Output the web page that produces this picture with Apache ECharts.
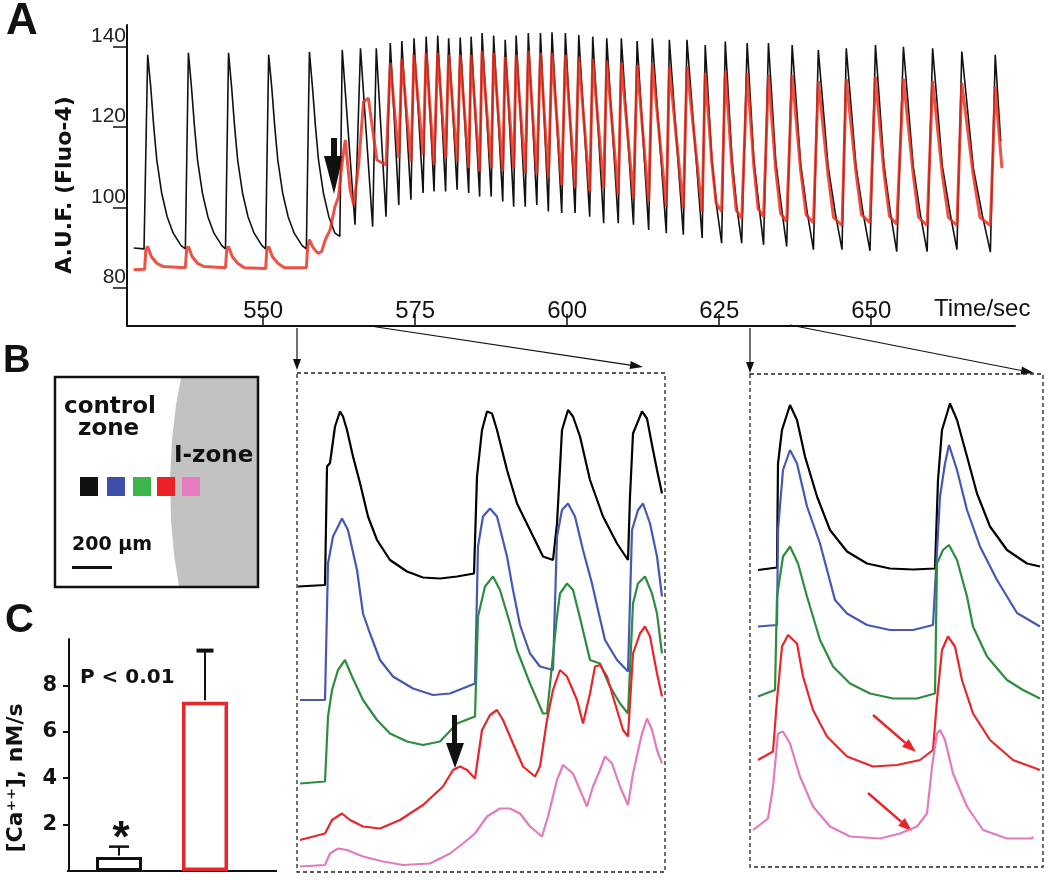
<!DOCTYPE html>
<html><head><meta charset="utf-8">
<script src="https://cdn.jsdelivr.net/npm/echarts@6/dist/echarts.min.js"></script>
<style>html,body{margin:0;padding:0;background:#fff}#c{width:1050px;height:880px}</style>
</head><body><div id="c"></div>
<script>
// ---------- Panel A : fluorescence (A.U.F., Fluo-4) vs time (s) ----------
const aTimeTicks = [550, 575, 600, 625, 650];
const aFluoTicks = [80, 100, 120, 140];
// control zone trace (black)  [time s, A.U.F.]
const aBlack = [[528.7,89.9],
[530.4,89.7],[531.0,138.0],[531.5,130.0],[532.0,120.1],[532.5,111.8],[533.3,103.6],[534.2,97.7],[535.2,93.6],[536.5,90.5],
[537.2,89.7],[537.7,138.5],[538.2,130.0],[538.7,120.1],[539.2,111.8],[540.0,103.6],[540.9,97.7],[541.9,93.6],[543.2,90.5],
[543.8,89.7],[544.3,138.5],[544.8,130.0],[545.3,120.1],[545.8,111.8],[546.6,103.6],[547.5,97.7],[548.5,93.6],[549.8,90.5],
[550.4,89.7],[550.9,138.0],[551.4,130.0],[551.9,120.1],[552.4,111.8],[553.2,103.6],[554.1,97.7],[555.1,93.6],[556.4,90.5],
[557.1,89.7],[557.6,138.7],[558.1,130.0],[558.6,120.1],[559.1,111.8],[559.9,103.6],[560.8,97.7],[561.8,93.6],[562.6,92.8],
[563.0,139.2],[565.1,95.7],[566.0,139.6],[568.0,95.2],[568.6,139.6],[570.2,97.7],[570.9,140.9],[572.3,100.6],
[572.8,141.4],[574.3,101.9],[574.8,142.1],[576.3,103.6],[576.8,142.5],[578.1,104.0],[578.7,142.8],[580.0,104.0],
[580.5,142.1],[581.9,104.4],[582.4,142.3],[583.8,103.6],[584.2,142.5],[585.6,102.7],[586.0,143.4],[587.5,102.7],
[587.9,142.8],[589.4,101.5],[589.8,141.7],[591.2,100.2],[591.6,142.8],[593.1,100.2],[593.6,143.4],[595.0,100.6],
[595.6,143.4],[596.9,99.0],[597.5,143.6],[599.1,98.6],[599.7,143.4],[601.3,98.6],[601.9,142.9],[603.7,97.7],
[604.2,142.5],[606.0,96.1],[606.5,142.1],[608.4,96.1],[608.9,142.1],[610.9,95.7],[611.5,141.4],[613.4,94.4],
[614.0,142.1],[616.3,93.6],[616.8,141.7],[619.1,93.2],[619.7,141.7],[622.2,92.4],
[622.7,140.4],[623.8,111.8],[624.6,100.0],[625.4,91.1],[626.0,141.3],[627.1,112.2],[627.9,100.1],[628.7,91.1],
[629.6,140.9],[630.7,111.8],[631.6,99.7],[632.3,90.7],[633.1,140.9],[634.3,111.5],[635.3,99.4],[636.1,90.3],
[637.0,140.4],[638.4,110.8],[639.5,98.5],[640.5,89.5],[641.3,139.2],[642.9,110.4],[644.1,98.5],[645.2,89.5],
[645.9,139.6],[647.5,110.3],[648.7,98.3],[649.8,89.2],[650.7,140.4],[652.1,110.6],[653.2,98.3],[654.2,89.0],
[655.3,140.0],[656.9,110.4],[658.1,98.1],[659.2,89.0],[660.1,139.6],[661.7,110.3],[663.0,98.4],[664.1,89.5],
[664.9,138.8],[666.8,109.8],[668.3,97.9],[669.6,88.9],[670.4,138.0],[671.3,116.4]];
// I-zone trace (red)
const aRed = [[528.7,84.5],
[530.5,84.6],[530.7,89.5],[531.0,90.3],[531.6,87.8],[532.5,86.1],[533.6,85.3],
[537.2,85.0],[537.4,89.5],[537.7,90.3],[538.3,87.8],[539.2,86.1],[540.3,85.3],
[543.8,85.0],[544.0,89.5],[544.3,90.3],[544.9,87.8],[545.8,86.1],[546.9,85.0],
[550.4,84.8],[550.6,89.5],[550.9,90.3],[551.5,87.8],[552.4,86.1],[553.5,85.0],
[557.1,85.0],[557.3,90.0],[557.6,92.0],[558.2,90.0],[559.0,88.6],[559.6,89.0],[560.2,91.9],[561.0,94.4],
[561.8,100.2],[562.4,102.7],[562.9,110.2],[563.5,116.8],[564.3,104.4],[564.9,100.6],[565.7,110.6],[566.5,126.3],
[567.3,127.2],[567.9,120.5],[568.7,111.8],[570.2,110.6],
[570.9,136.0],[572.3,112.3],[572.8,137.0],[574.3,111.4],[574.8,138.0],[576.3,113.1],[576.8,138.5],[578.1,110.6],
[578.7,138.5],[580.0,112.3],[580.5,138.0],[581.9,111.4],[582.4,138.0],[583.8,109.8],[584.2,138.0],[585.6,109.0],
[586.0,139.0],[587.5,109.8],[587.9,138.5],[589.4,109.0],[589.8,137.5],[591.2,109.8],[591.6,138.0],[593.1,108.5],
[593.6,139.0],[595.0,108.1],[595.6,138.5],[596.9,107.3],[597.5,138.5],[599.1,105.6],[599.7,138.0],[601.3,104.8],
[601.9,137.5],[603.7,104.0],[604.2,137.0],[606.0,104.8],[606.5,136.5],[608.4,103.1],[608.9,136.0],[610.9,102.3],
[611.5,135.5],[613.4,101.5],[614.0,136.0],[616.3,100.2],[616.8,135.0],[619.1,99.8],[619.7,135.0],[622.2,99.0],
[622.7,133.5],[623.8,111.1],[624.5,101.0],[625.4,99.0],[626.0,134.0],[627.1,110.1],[627.8,99.3],[628.7,97.3],
[629.6,133.5],[630.7,110.2],[631.4,99.7],[632.3,97.7],[633.1,133.0],[634.3,109.3],[635.1,98.5],[636.1,96.5],
[637.0,133.0],[638.4,109.1],[639.3,98.2],[640.5,96.2],[641.3,131.5],[642.9,108.1],[643.8,97.5],[645.2,95.5],
[645.9,132.0],[647.5,108.7],[648.4,98.2],[649.8,96.2],[650.7,132.5],[652.1,108.6],[653.0,97.8],[654.2,95.8],
[655.3,132.0],[656.9,108.3],[657.8,97.5],[659.2,95.5],[660.1,131.5],[661.7,108.1],[662.7,97.5],[664.1,95.5],
[664.9,131.0],[666.8,107.9],[667.9,97.5],[669.6,95.5],[670.4,130.0],[671.5,109.8]];

// ---------- Panel B : 5 sites, [frame, normalised F] ----------
const b1Black = [[0,57.1],[27,57.4],[29,81.1],[32,81.8],[37,89.1],[42,92.1],[45,91.1],[49,88.4],[55,83.1],[62,77.8],[70,71.1],[79,66.4],[92,62.4],[109,60.1],[125,58.9],[142,58.7],[159,59.1],[176,59.7],[179,79.1],[184,88.4],[189,92.1],[194,91.7],[199,88.4],[209,80.4],[219,73.7],[232,68.4],[245,63.1],[255,62.4],[259,69.7],[264,88.4],[270,92.4],[275,91.1],[282,87.1],[292,78.4],[305,71.1],[319,65.7],[330,62.4],[332,75.1],[335,87.7],[344,92.1],[349,90.7],[355,84.4],[359,80.4],[364,75.7]];
const b1Blue = [[2,34.4],[27,34.4],[30,61.7],[35,67.1],[44,70.7],[50,68.4],[59,60.4],[65,51.7],[72,47.7],[82,42.4],[95,39.1],[115,36.7],[135,35.4],[152,35.7],[177,37.7],[180,65.1],[185,71.1],[192,72.7],[199,71.1],[209,63.1],[215,56.4],[222,49.4],[232,43.7],[242,41.1],[255,40.4],[259,67.1],[264,72.4],[270,73.7],[277,71.1],[285,64.4],[294,57.7],[300,52.4],[307,46.4],[319,42.4],[330,40.1],[334,68.4],[340,72.4],[345,73.7],[352,69.7],[359,63.1],[364,55.1]];
const b1Green = [[2,17.7],[27,18.1],[30,31.1],[34,36.4],[40,40.4],[47,42.4],[54,39.1],[65,34.4],[79,30.4],[92,27.7],[109,26.1],[125,25.4],[142,26.1],[159,29.7],[177,31.1],[180,51.1],[187,57.1],[195,59.1],[202,56.4],[212,49.7],[219,44.4],[232,37.7],[245,31.7],[249,31.7],[259,51.1],[262,55.7],[269,57.7],[275,56.4],[282,50.8],[292,42.4],[302,41.7],[312,37.1],[322,33.7],[330,31.7],[335,53.7],[340,57.7],[347,59.1],[354,55.7],[359,51.7],[364,43.7]];
const b1Red = [[2,6.4],[27,7.7],[34,10.4],[44,11.7],[52,10.4],[65,9.1],[82,8.7],[102,10.4],[125,13.4],[145,17.1],[155,20.4],[162,21.1],[169,20.4],[177,18.7],[184,28.4],[192,31.4],[199,32.4],[205,30.4],[215,25.7],[225,21.1],[237,19.1],[242,21.1],[249,30.4],[255,36.4],[262,40.4],[269,39.1],[279,34.4],[285,29.7],[292,35.7],[297,41.1],[302,41.4],[309,39.1],[319,32.4],[325,28.4],[330,27.1],[335,43.7],[342,47.7],[347,49.1],[352,47.1],[359,39.7],[364,35.1]];
const b1Pink = [[2,1.1],[27,1.4],[32,3.7],[40,4.7],[49,4.4],[65,3.1],[85,2.1],[105,1.4],[132,1.7],[152,3.7],[165,5.7],[177,7.7],[189,11.1],[202,12.7],[212,12.7],[222,11.7],[232,9.1],[244,7.1],[250,11.1],[259,18.4],[265,21.4],[275,19.7],[282,16.4],[289,13.1],[295,17.1],[302,20.4],[307,23.1],[314,21.7],[322,17.1],[330,13.4],[335,19.7],[344,27.7],[349,30.7],[354,28.4],[359,24.4],[364,21.7]];

const b2Black = [[8,60.4],[27,60.9],[28,81.7],[32,88.4],[40,93.4],[47,90.4],[55,83.1],[67,75.1],[80,68.4],[97,64.1],[117,61.7],[140,60.7],[163,60.5],[185,60.7],[188,78.4],[192,88.4],[200,93.7],[207,90.4],[217,83.1],[227,75.7],[240,69.1],[257,64.4],[277,61.7],[290,61.1]];
const b2Blue = [[8,49.1],[27,49.4],[28,68.4],[33,80.4],[40,84.4],[47,81.7],[57,73.1],[70,65.7],[85,54.4],[97,51.7],[117,49.4],[140,48.4],[163,48.4],[183,49.4],[190,75.1],[195,81.7],[199,85.4],[207,80.4],[217,72.4],[230,65.1],[247,58.4],[267,51.8],[290,49.1]];
const b2Green = [[8,35.1],[25,36.4],[27,55.1],[33,63.1],[40,65.1],[48,61.7],[57,55.1],[70,46.4],[83,41.1],[100,37.7],[120,35.7],[143,34.7],[167,34.7],[185,35.7],[187,61.7],[193,64.4],[199,65.4],[207,62.4],[217,55.1],[223,49.1],[237,43.1],[257,38.4],[273,36.4],[290,34.7]];
const b2Red = [[8,22.4],[23,24.1],[27,34.4],[32,45.1],[38,47.4],[47,45.7],[53,39.1],[63,32.4],[77,27.1],[97,23.1],[123,21.1],[147,21.4],[170,22.4],[183,24.4],[187,34.4],[192,44.4],[198,47.1],[205,45.1],[212,38.4],[223,31.7],[240,26.4],[263,22.4],[290,20.4]];
const b2Pink = [[3,8.4],[18,10.7],[23,17.1],[28,27.7],[33,28.1],[40,25.7],[50,19.1],[63,13.1],[80,9.1],[100,7.1],[130,6.7],[150,7.7],[167,9.1],[177,11.7],[182,21.1],[187,27.7],[190,28.4],[195,26.4],[203,19.7],[217,13.1],[233,8.4],[257,6.7],[282,6.7],[283,7.1]];

// ---------- Panel C : [Ca++] rise rate, nM/s ----------
const cCategories = ['control zone', 'I-zone'];
const cMeans = [0.6, 7.3];
const cErrors = [0.45, 2.2];
const cTicks = [2, 4, 6, 8];

const FONT = '"Liberation Sans", Arial, Helvetica, sans-serif';
const BFONT = '"DejaVu Sans", Verdana, sans-serif';
const siteColors = ['#000000', '#4658b4', '#2e8c3e', '#e8262a', '#e27bbd'];
const cBorder = ['#111111', '#e8262a'];

function arrow(x1, y1, x2, y2, color, lw, hl, hw) {
  const dx = x2 - x1, dy = y2 - y1, L = Math.hypot(dx, dy), ux = dx / L, uy = dy / L;
  const bx = x2 - ux * hl, by = y2 - uy * hl, nx = -uy, ny = ux;
  return [
    { type: 'line', shape: { x1, y1, x2: bx, y2: by }, style: { stroke: color, lineWidth: lw } },
    { type: 'polygon', shape: { points: [[x2, y2], [bx + nx * hw / 2, by + ny * hw / 2], [bx - nx * hw / 2, by - ny * hw / 2]] }, style: { fill: color } }
  ];
}
function txt(x, y, s, font, extra) {
  return Object.assign({ type: 'text', x, y, style: Object.assign({ text: s, font, fill: '#111' }, extra || {}) });
}

const chart = echarts.init(document.getElementById('c'), null, { renderer: 'canvas' });

const hiddenAxis = (gi, min, max) => ({ gridIndex: gi, type: 'value', min, max, show: false });
const traceSeries = (data, xi, color) => ({
  type: 'line', xAxisIndex: xi, yAxisIndex: xi, data, showSymbol: false, silent: true,
  lineStyle: { color, width: 2.2 }, z: 2
});

const graphics = [
  txt(6, 0, 'A', 'bold 44px ' + FONT),
  Object.assign(txt(65, 185, 'A.U.F. (Fluo-4)', 'bold 22px ' + BFONT, { align: 'center', verticalAlign: 'middle' }), { rotation: Math.PI / 2 }),
  txt(934, 297, 'Time/sec', '24px ' + FONT),
  { type: 'rect', shape: { x: 331, y: 138, width: 6, height: 20 }, style: { fill: '#111' } },
  { type: 'polygon', shape: { points: [[324, 156], [343, 156], [334, 194]] }, style: { fill: '#111' } },
  ...arrow(297, 328, 297, 370, '#111', 1.2, 11, 8),
  ...arrow(370, 326, 643, 367, '#111', 1.2, 13, 8),
  ...arrow(750, 328, 750, 373, '#111', 1.2, 11, 8),
  ...arrow(790, 325, 1034, 373, '#111', 1.2, 13, 8),
  txt(3, 343, 'B', 'bold 38px ' + FONT),
  { type: 'polygon', shape: { points: [[181, 378], [176, 405], [172, 440], [170, 480], [171, 520], [174, 555], [179, 586], [257, 586], [257, 378]] }, style: { fill: '#c2c2c2' } },
  { type: 'rect', shape: { x: 55, y: 377, width: 203, height: 210 }, style: { fill: null, stroke: '#111', lineWidth: 2.5 } },
  txt(64, 396, 'control', 'bold 23px ' + BFONT),
  txt(78, 418, 'zone', 'bold 23px ' + BFONT),
  txt(174, 445, 'I-zone', 'bold 23px ' + BFONT),
  txt(72, 536, '200 \u00b5m', 'bold 19px ' + BFONT),
  { type: 'rect', shape: { x: 72, y: 566, width: 40, height: 3 }, style: { fill: '#111' } },
  { type: 'rect', shape: { x: 297, y: 373, width: 368, height: 499 }, style: { fill: null, stroke: '#222', lineWidth: 1.3, lineDash: [4, 3] } },
  { type: 'rect', shape: { x: 750, y: 374, width: 293, height: 493 }, style: { fill: null, stroke: '#222', lineWidth: 1.3, lineDash: [4, 3] } },
  { type: 'rect', shape: { x: 452, y: 715, width: 5, height: 30 }, style: { fill: '#111' }, z: 10 },
  { type: 'polygon', shape: { points: [[446, 743], [464, 743], [455, 768]] }, style: { fill: '#111' }, z: 10 },
  ...arrow(873, 715, 916, 752, '#e8262a', 2.5, 14, 10),
  ...arrow(868, 793, 912, 831, '#e8262a', 2.5, 14, 10),
  txt(5, 601, 'C', 'bold 40px ' + FONT),
  txt(80, 668, 'P < 0.01', 'bold 20px ' + BFONT),
  txt(121, 818, '*', 'bold 44px ' + FONT, { align: 'center' }),
  Object.assign(txt(16, 778, '[Ca\u207a\u207a], nM/s', 'bold 22px ' + BFONT, { align: 'center', verticalAlign: 'middle' }), { rotation: Math.PI / 2 }),
  { type: 'line', shape: { x1: 67, y1: 871, x2: 277, y2: 871 }, style: { stroke: '#111', lineWidth: 2 } }
];
[80, 107, 133, 157, 182].forEach((x, i) => graphics.push({ type: 'rect', shape: { x, y: 477, width: 18, height: 19 }, style: { fill: ['#111', '#3d4faa', '#3cb54a', '#ea2228', '#e77bbd'][i] } }));

const option = {
  animation: false,
  backgroundColor: '#fff',
  textStyle: { fontFamily: FONT },
  grid: [
    { left: 127, top: 25, width: 888, height: 301 },
    { left: 298, top: 372, width: 365, height: 500 },
    { left: 750, top: 372, width: 293, height: 500 },
    { left: 76, top: 639, width: 172, height: 232 }
  ],
  xAxis: [
    { gridIndex: 0, type: 'value', min: 527.6, max: 673.65,
      axisLine: { show: true, lineStyle: { color: '#111', width: 2 } },
      axisTick: { show: true, inside: true, length: 12, customValues: aTimeTicks, lineStyle: { color: '#111', width: 1.5 } },
      axisLabel: { inside: true, margin: 3, customValues: aTimeTicks, fontSize: 24, color: '#111', fontFamily: FONT },
      splitLine: { show: false } },
    hiddenAxis(1, 0, 365),
    hiddenAxis(2, 0, 293),
    { gridIndex: 3, type: 'category', data: cCategories, axisLine: { show: false }, axisTick: { show: false }, axisLabel: { show: false } }
  ],
  yAxis: [
    { gridIndex: 0, type: 'value', min: 70.5, max: 145.4,
      axisLine: { show: true, lineStyle: { color: '#111', width: 2 } },
      axisTick: { show: true, length: 14, customValues: aFluoTicks, lineStyle: { color: '#111', width: 1.5 } },
      axisLabel: { customValues: aFluoTicks, margin: 1, fontSize: 21, color: '#222', verticalAlign: 'bottom', fontFamily: FONT },
      splitLine: { show: false } },
    hiddenAxis(1, 0, 100),
    hiddenAxis(2, 0, 100),
    { gridIndex: 3, type: 'value', min: 0, max: 10, offset: 7,
      axisLine: { show: true, lineStyle: { color: '#111', width: 2 } },
      axisTick: { show: true, length: 6, customValues: cTicks, lineStyle: { color: '#111', width: 2 } },
      axisLabel: { customValues: cTicks, margin: 12, fontSize: 21, fontWeight: 'bold', color: '#111', fontFamily: BFONT },
      splitLine: { show: false } }
  ],
  series: [
    { type: 'line', xAxisIndex: 0, yAxisIndex: 0, data: aBlack, showSymbol: false, silent: true, lineStyle: { color: '#111', width: 1.6 }, z: 2 },
    { type: 'line', xAxisIndex: 0, yAxisIndex: 0, data: aRed, showSymbol: false, silent: true, lineStyle: { color: 'rgba(232,45,28,0.82)', width: 3 }, z: 3 },
    traceSeries(b1Black, 1, siteColors[0]), traceSeries(b1Blue, 1, siteColors[1]), traceSeries(b1Green, 1, siteColors[2]),
    traceSeries(b1Red, 1, siteColors[3]), traceSeries(b1Pink, 1, siteColors[4]),
    traceSeries(b2Black, 2, siteColors[0]), traceSeries(b2Blue, 2, siteColors[1]), traceSeries(b2Green, 2, siteColors[2]),
    traceSeries(b2Red, 2, siteColors[3]), traceSeries(b2Pink, 2, siteColors[4]),
    { type: 'bar', xAxisIndex: 3, yAxisIndex: 3, barWidth: 46, silent: true,
      data: cMeans.map((v, i) => ({ value: v, itemStyle: { color: '#fff', borderColor: cBorder[i], borderWidth: i ? 3.5 : 3 } })) },
    { type: 'custom', xAxisIndex: 3, yAxisIndex: 3, silent: true, z: 5,
      data: cMeans.map((v, i) => [i, v, v + cErrors[i]]),
      encode: { x: 0, y: [1, 2] },
      renderItem: (params, api) => {
        const lo = api.coord([api.value(0), api.value(1)]);
        const hi = api.coord([api.value(0), api.value(2)]);
        const capW = params.dataIndex ? 17 : 20;
        return { type: 'group', children: [
          { type: 'line', shape: { x1: lo[0], y1: lo[1] - 1.5, x2: hi[0], y2: hi[1] }, style: { stroke: '#111', lineWidth: 2 } },
          { type: 'line', shape: { x1: hi[0] - capW / 2, y1: hi[1], x2: hi[0] + capW / 2, y2: hi[1] }, style: { stroke: '#111', lineWidth: params.dataIndex ? 4 : 2.5 } }
        ] };
      } }
  ],
  graphic: graphics
};
chart.setOption(option);
</script>
</body></html>
